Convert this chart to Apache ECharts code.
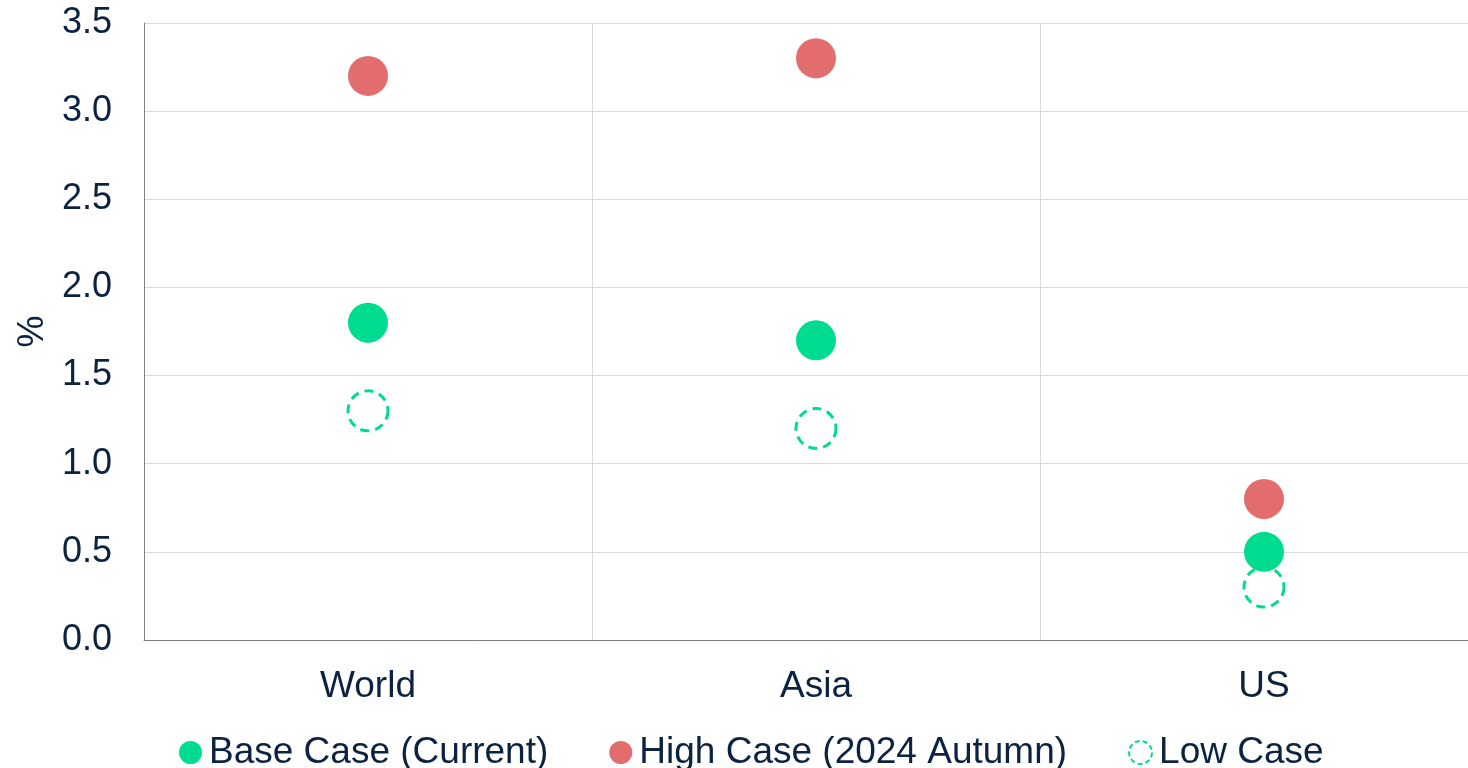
<!DOCTYPE html>
<html>
<head>
<meta charset="utf-8">
<script src="https://cdn.jsdelivr.net/npm/echarts@6/dist/echarts.min.js"></script>
<style>
  html, body { margin: 0; padding: 0; background: #fff; overflow: hidden; }
  /* plot runs past the right edge of the window, as in the source */
  #chart { width: 1488px; height: 768px; }
</style>
</head>
<body>
<div id="chart"></div>
<script>
// regions on the x axis
var regions = ["World", "Asia", "US"];
// growth, %
var baseCase = [1.8, 1.7, 0.5];
var highCase = [3.2, 3.3, 0.8];
var lowCase = [1.3, 1.2, 0.3];

var textColor = "#0b2341";
var green = "#00dc8f";
var red = "#e36d6d";

var chart = echarts.init(document.getElementById("chart"));

chart.setOption({
    animation: false,
    textStyle: { fontFamily: "Liberation Sans, Arial, sans-serif" },
    grid: { left: 144, right: 0, top: 23, bottom: 128 },
    legend: {
        top: 729,
        left: 174,
        itemGap: 61,
        itemWidth: 23,
        itemHeight: 23,
        icon: "circle",
        textStyle: { fontSize: 37, color: textColor, padding: [0, 0, 0, 2] },
        data: [
            "Base Case (Current)",
            "High Case (2024 Autumn)",
            {
                name: "Low Case",
                itemStyle: {
                    color: "#ffffff",
                    borderColor: green,
                    borderWidth: 2,
                    borderType: [5, 3],
                },
            },
        ],
    },
    xAxis: {
        type: "category",
        data: regions,
        axisLine: { lineStyle: { color: "#808080", width: 1 } },
        axisTick: { show: false },
        splitLine: { show: true, lineStyle: { color: "#d9d9d9", width: 1 } },
        axisLabel: { fontSize: 37, color: textColor, margin: 28 },
    },
    yAxis: {
        type: "value",
        min: 0,
        max: 3.5,
        interval: 0.5,
        name: "%",
        nameLocation: "middle",
        nameGap: 89,
        nameTextStyle: { fontSize: 36, color: textColor },
        axisLine: { show: true, lineStyle: { color: "#808080", width: 1 } },
        axisTick: { show: false },
        splitLine: { lineStyle: { color: "#d9d9d9", width: 1 } },
        axisLabel: {
            fontSize: 36,
            color: textColor,
            margin: 32,
            formatter: function (v) { return v.toFixed(1); },
        },
    },
    series: [
        {
            name: "Low Case",
            type: "scatter",
            data: lowCase,
            symbol: "circle",
            symbolSize: 40,
            itemStyle: {
                color: "#ffffff",
                borderColor: green,
                borderWidth: 3,
                borderType: [9, 6],
                opacity: 1,
            },
            z: 1,
        },
        {
            name: "Base Case (Current)",
            type: "scatter",
            data: baseCase,
            symbolSize: 40,
            itemStyle: { color: green, opacity: 1 },
            z: 3,
        },
        {
            name: "High Case (2024 Autumn)",
            type: "scatter",
            data: highCase,
            symbolSize: 40,
            itemStyle: { color: red, opacity: 1 },
            z: 2,
        },
    ],
});
</script>
</body>
</html>
